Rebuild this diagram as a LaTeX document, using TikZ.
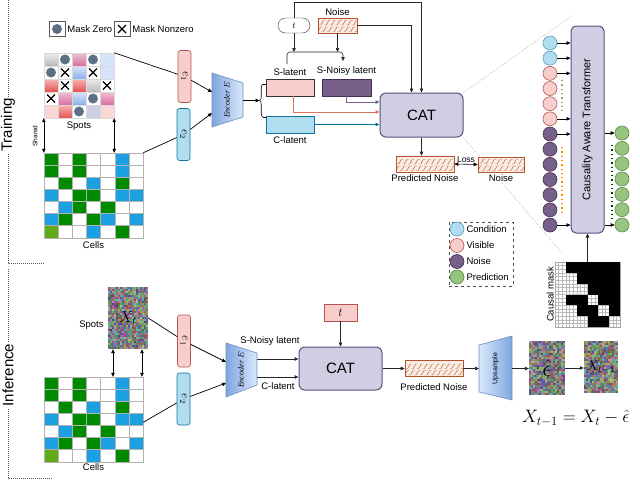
\documentclass[tikz,border=0pt]{standalone}
\usepackage{fix-cm}
\usepackage[no-math]{fontspec}
\setmainfont{Liberation Sans}
\newfontfamily\seriffont{Liberation Serif}
\usepackage{graphicx}
\usetikzlibrary{positioning,arrows.meta,decorations.pathreplacing}

\definecolor{pinkf}{HTML}{F8CECC}
\definecolor{pinkd}{HTML}{B85450}
\definecolor{bluef}{HTML}{B1DDF0}
\definecolor{blued}{HTML}{10739E}
\definecolor{purpf}{HTML}{76608A}
\definecolor{purpd}{HTML}{432D57}
\definecolor{greenf}{HTML}{97C47E}
\definecolor{greend}{HTML}{5A8A46}
\definecolor{catf}{HTML}{D0CEE2}
\definecolor{catd}{HTML}{56517E}
\definecolor{hatchf}{HTML}{FBEDE4}
\definecolor{hatchd}{HTML}{B5532A}
\definecolor{cgreen}{HTML}{008A00}
\definecolor{cblue}{HTML}{1BA1E2}
\definecolor{clime}{HTML}{60A917}
\definecolor{dotc}{HTML}{5D7186}
\definecolor{salm}{HTML}{D9755B}
\definecolor{encdk}{HTML}{7EA6E0}
\definecolor{enclt}{HTML}{DAE8FC}
\definecolor{encbd}{HTML}{6C8EBF}
\definecolor{pmA}{HTML}{F0BED2}
\definecolor{pmB}{HTML}{D76EA0}
\definecolor{rdA}{HTML}{F8B4B4}
\definecolor{rdB}{HTML}{E65050}
\definecolor{blA}{HTML}{D6E4FA}
\definecolor{blB}{HTML}{8CB0EC}

% 7x7 cell matrix, top left corner at (#1,#2)
\newcommand{\cellgrid}[2]{%
  \foreach \row [count=\r from 0] in {{G,W,G,W,W,B,W},{G,W,G,W,W,B,W},{W,G,W,B,W,G,W},{B,W,G,G,W,B,B},{W,B,G,W,G,W,W},{B,G,W,G,B,W,B},{L,W,W,B,W,G,W}}
    \foreach \c [count=\k from 0] in \row
      \path[ce\c] ({#1+14.14*\k},{#2+12.1*\r}) rectangle ++(14.14,12.1);}

% random noise picture, top left (#1,#2), #3 x #4 pixels of 2pt
\newcommand{\noiseimg}[4]{%
  \foreach \i in {1,...,#3}{\foreach \j in {1,...,#4}{%
    \pgfmathsetmacro{\ra}{0.25+0.5*rnd}\pgfmathsetmacro{\rb}{0.25+0.5*rnd}\pgfmathsetmacro{\rc}{0.25+0.5*rnd}%
    \definecolor{nzc}{rgb}{\ra,\rb,\rc}%
    \fill[nzc] ({#1+2*\i-2},{#2+2*\j-2}) rectangle ++(2,2);}}}

\begin{document}
\pgfmathsetseed{7}
\begin{tikzpicture}[x=1pt,y=-1pt,
  >={Triangle[length=4pt,width=3.5pt]},
  lbl/.style={font=\fontsize{9.5}{11}\selectfont, inner sep=1pt},
  phase/.style={font=\fontsize{15}{17}\selectfont, rotate=90, fill=white, inner sep=1.5pt},
  phaseframe/.style={draw=gray!70!black, dash pattern=on 1pt off 1pt, line width=0.6pt},
  zoomline/.style={draw=gray!70, dash pattern=on 0.8pt off 1.2pt, line width=0.5pt},
  conn/.style={->, line width=0.7pt},
  gconn/.style={->, draw=gray!30!black, line width=0.6pt},
  dblarr/.style={<->, line width=0.6pt},
  ebox/.style={rounded corners=2.5pt, minimum width=13pt, minimum height=52pt, inner sep=0, line width=0.6pt, font=\fontsize{12}{14}\selectfont},
  eone/.style={ebox, fill=pinkf, draw=pinkd},
  etwo/.style={ebox, fill=bluef, draw=blued},
  latent/.style={minimum width=48pt, minimum height=17pt, inner sep=0, line width=0.8pt},
  catbox/.style={rounded corners=6pt, fill=catf, draw=catd, line width=1pt, minimum width=83pt, minimum height=44pt, inner sep=0, font=\fontsize{15}{17}\selectfont},
  noisebox/.style={draw=hatchd, fill=hatchf, line width=0.6pt, inner sep=0,
    path picture={\foreach \rr in {0,1}{\foreach \ii in {0,...,11}{\draw[hatchd, line width=0.45pt] ([shift={({\ii*5.5pt-2pt+\rr*2.75pt},{1.5pt+\rr*6.5pt})}]path picture bounding box.south west) -- ++(2pt,0pt) -- ++(2.5pt,4.5pt) -- ++(2pt,0pt);}}}},
  tok/.style={circle, minimum size=14pt, inner sep=0, line width=0.6pt},
  tokcond/.style={tok, fill=bluef, draw=blued!70},
  tokvis/.style={tok, fill=pinkf, draw=pinkd},
  toknoi/.style={tok, fill=purpf, draw=purpd},
  tokpred/.style={tok, fill=greenf, draw=greend},
  ceG/.style={fill=cgreen, draw=gray!60}, ceW/.style={fill=white, draw=gray!60},
  ceB/.style={fill=cblue, draw=gray!60}, ceL/.style={fill=clime, draw=gray!60},
  spgy/.style={top color=gray!15, bottom color=gray!55, draw=gray!30},
  sppm/.style={top color=pmA, bottom color=pmB, draw=gray!30},
  sprd/.style={top color=rdA, bottom color=rdB, draw=gray!30},
  spbl/.style={top color=blA, bottom color=blB, draw=gray!30},
  splb/.style={fill=blA, draw=gray!30},
  splp/.style={fill=pinkf!80, draw=gray!30},
  splv/.style={fill=catf, draw=gray!30},
  spwc/.style={fill=white, draw=gray!30, path picture={\fill[dotc] (path picture bounding box.center) circle (5pt);}},
  spwx/.style={fill=white, draw=gray!30, path picture={\draw[black, line width=1.1pt] ([shift={(-4pt,-4pt)}]path picture bounding box.center) -- ++(8pt,8pt) ([shift={(-4pt,4pt)}]path picture bounding box.center) -- ++(8pt,-8pt);}},
  maskgrid/.style={draw=gray!55, line width=0.25pt},
  encshape/.style={left color=encdk, right color=enclt, draw=encbd, line width=0.6pt},
  upsshape/.style={left color=enclt, right color=encdk, draw=encbd, line width=0.6pt},
  encfont/.style={rotate=90, font=\fontsize{8}{9}\selectfont\seriffont\itshape},
  dotg/.style={draw=greend!70, line width=1.3pt, dash pattern=on 1.3pt off 3pt},
  doto/.style={draw=orange!90!yellow, line width=1.3pt, dash pattern=on 1.3pt off 3pt},
  dotd/.style={draw=green!25!black, line width=1.3pt, dash pattern=on 1.3pt off 3pt}
]
\useasboundingbox (0,0) rectangle (640,480);

% training / inference frames
\draw[phaseframe] (8,0) -- (8,263) -- (44,263);
\node[phase] at (8,125) {Training};
\draw[phaseframe] (8,269) -- (8,478) -- (53,478);
\node[phase] at (8,375) {Inference};

% mask legend
\node[spwc, draw=gray!70!black, minimum width=16pt, minimum height=15pt] (mz) at (57,29) {};
\node[lbl, right=1pt of mz] {Mask Zero};
\node[spwx, draw=gray!70!black, minimum width=16pt, minimum height=15pt] (mn) at (122,29) {};
\node[lbl, right=1pt of mn] {Mask Nonzero};

% spots and cells
\foreach \row [count=\r from 0] in {{gy,wc,pm,wc,lb},{wc,wx,bl,wx,lb},{rd,wx,rd,gy,wx},{wx,pm,bl,wc,pm},{lp,rd,wc,lv,lp}}
  \foreach \c [count=\k from 0] in \row
    \path[sp\c] ({44+14*\k},{53+13*\r}) rectangle ++(14,13);
\node[minimum width=70pt, minimum height=65pt, inner sep=0] (sp) at (79,85.5) {};
\node[lbl, below=2pt of sp] {Spots};
\cellgrid{44}{153}
\node[minimum width=99pt, minimum height=84.7pt, inner sep=0] (ce) at (93.5,195.35) {};
\node[lbl, below=3pt of ce] {Cells};
\draw[dblarr] (sp.south west) -- (ce.north west);
\draw[dblarr] (sp.south east) -- (sp.south east |- ce.north);
\node[rotate=90, font=\fontsize{6.5}{7}\selectfont] at (35,136) {Shared};

% encoder
\node[eone] (e1) at (184.5,76.5) {\rotatebox{-90}{$e_1$}};
\node[etwo] (e2) at (183.5,134.5) {\rotatebox{-90}{$e_2$}};
\path[encshape] (212,73) -- (243,83) -- (243,117) -- (212,127) -- cycle;
\node[encfont] (enc) at (227,100) {Encoder $E$};
\coordinate (encA) at (212,92);
\coordinate (encB) at (212,113);
\coordinate (encO) at (243,100.5);
\draw[line width=0.7pt] (sp.north east) -- (e1);
\draw[conn] (e1) -- (encA);
\draw[line width=0.7pt] (ce.north east) -- (e2);
\draw[conn] (e2) -- (encB);

% latents
\node[latent, fill=pinkf, draw=black!80] (sl) at (290,87.5) {};
\node[latent, fill=purpf, draw=purpd, minimum width=49pt] (snl) at (346.5,87.5) {};
\node[latent, fill=bluef, draw=blued] (cl) at (290,124.5) {};
\node[lbl, above=2pt of sl] {S-latent};
\node[lbl, above=2pt of snl] {S-Noisy latent};
\node[lbl, below=2pt of cl] {C-latent};
\coordinate (brT) at (263,84);
\coordinate (brB) at (263,117);
\coordinate (brM) at (259.5,100.5);
\draw[conn, line width=0.6pt] (encO) -- (brM);
\draw[line width=0.6pt, decorate, decoration={brace, amplitude=3.5pt}] (brB) -- (brT);
\draw[line width=0.6pt] (brT) -- (sl.west |- brT);
\draw[line width=0.6pt] (brB) -- (cl.west |- brB);

% timestep and noise
\node[draw=gray!40!black, fill=white, rounded corners=7.5pt, minimum width=32pt, minimum height=15pt, inner sep=0, font=\fontsize{9}{10}\selectfont] (t) at (294,25.5) {$t$};
\node[noisebox, minimum width=39pt, minimum height=15pt] (nz) at (337.5,25.5) {};
\node[lbl, above=1pt of nz] {Noise};
\node[catbox] (cat) at (421.5,115) {CAT};
\draw[gconn] (t.north) -- ++(0,-16) -| (cat.north);
\draw[gconn] (nz.east) -| ([xshift=-10pt]cat.north);
\coordinate (barL) at (287,52);
\coordinate (barR) at (343,52);
\draw[gconn] (t.south) -- (t.south |- barL);
\draw[gconn] (nz.south) -- (nz.south |- barL);
\draw[gconn, rounded corners=3pt] ([yshift=-12pt]barL) -- (barL) -- (barR) -- ([yshift=-9pt]barR);
\draw[->, purpf, line width=0.7pt] (snl.south) |- ([yshift=13pt]cat.west);
\draw[->, salm, line width=0.7pt] ([xshift=3pt]sl.south) |- ([yshift=3pt]cat.west);
\draw[->, blued, line width=0.7pt] (cl.east) -- (cl.east -| cat.west);

% loss
\node[noisebox, minimum width=58pt, minimum height=16pt] (pn) at (425,164) {};
\node[lbl, below=1pt of pn] {Predicted Noise};
\node[noisebox, minimum width=46pt, minimum height=15pt] (nz2) at (501,164.5) {};
\node[lbl, below=1.5pt of nz2] {Noise};
\draw[gconn] (cat.south) -- (cat.south |- pn.north);
\draw[dblarr] (pn.east) -- node[above, font=\fontsize{8.5}{10}\selectfont, inner sep=1pt] {Loss} (nz2.west);

% causality aware transformer
\node[catbox, minimum width=33pt, minimum height=207pt, rounded corners=5pt, font=\fontsize{11}{13}\selectfont] (catr) at (587.5,129.5) {\rotatebox{90}{Causality Aware Transformer}};
\coordinate (zoomT) at (573,15);
\coordinate (zoomB) at (562,253);
\draw[zoomline] (cat.north east) -- (zoomT);
\draw[zoomline] (cat.south east) -- (zoomB);
\foreach \st [count=\i from 0] in {cond,cond,vis,vis,vis,vis,noi,noi,noi,noi,noi,noi,noi}
  \node[tok\st] (in\i) at (550,{43+15.17*\i}) {};
\foreach \i in {0,1,2,5,6,12}
  \draw[gconn, draw=black] (in\i) -- (in\i -| catr.west);
\foreach \j in {0,...,6}
  \node[tokpred] (out\j) at (622,{133+15.33*\j}) {};
\draw[gconn, draw=black] (catr.east |- out0) -- (out0);
\draw[gconn, draw=black] (catr.east |- out6) -- (out6);
\draw[dotg] (562,80) -- (562,113);
\draw[doto] (562,147) -- (562,214);
\draw[dotd] (612,145) -- (612,221);

% causal mask
\node[draw=gray!70, minimum size=65pt, inner sep=0] (cm) at (587.5,294.5) {};
\foreach \i in {1,...,17} {
  \draw[maskgrid] ({555+\i*65/18},262) -- ++(0,65);
  \draw[maskgrid] (555,{262+\i*65/18}) -- ++(65,0);}
\foreach \r/\blk in {0/{1,2,3,4,5},1/{2,3,4,5},2/{3,4,5},3/{1,2,4,5},4/{2,3,5},5/{3,4}}
  \foreach \k in \blk
    \fill ({555+\k*65/6},{262+\r*65/6}) rectangle ++({65/6},{65/6});
\draw[gconn] (cm) -- (catr);
\node[lbl, rotate=90, anchor=south] at (cm.west) {Causal mask};

% token legend
\node[draw=gray!60!black, dashed, minimum width=64pt, minimum height=64pt, inner sep=0] (leg) at (481,254) {};
\foreach \y/\st/\txt in {229/cond/Condition,245.5/vis/Visible,261.5/noi/Noise,277/pred/Prediction} {
  \node[tok\st] (lg\st) at (457,\y) {};
  \node[lbl, right=1pt of lg\st] {\txt};}

% inference
\noiseimg{108}{287}{20}{31}
\node[minimum width=40pt, minimum height=62pt, inner sep=0, font=\fontsize{16}{18}\selectfont] (xt) at (128,318) {$X_t$};
\node[lbl, anchor=east] at ([xshift=-3pt,yshift=-7pt]xt.west) {Spots};
\cellgrid{44}{377}
\node[minimum width=99pt, minimum height=84.7pt, inner sep=0] (ce2) at (93.5,419.35) {};
\node[lbl, below=1pt of ce2] {Cells};
\draw[dblarr] ([xshift=-15pt]xt.south) -- ([xshift=-15pt]xt.south |- ce2.north);
\draw[dblarr] ([xshift=14pt]xt.south) -- ([xshift=14pt]xt.south |- ce2.north);
\node[eone] (e1b) at (184,341) {\rotatebox{-90}{$e_1$}};
\node[etwo] (e2b) at (183.5,399) {\rotatebox{-90}{$e_2$}};
\path[encshape] (226,343) -- (257,353) -- (257,385) -- (226,397) -- cycle;
\node[encfont] (enc2) at (241,370) {Encoder $E$};
\coordinate (encC) at (226,362);
\coordinate (encD) at (226,383);
\coordinate (encE) at (257,359);
\coordinate (encF) at (257,377);
\draw[line width=0.7pt] (xt.east) -- (e1b);
\draw[conn] (e1b) -- (encC);
\draw[line width=0.7pt] ([yshift=-3pt]ce2.east) -- (e2b);
\draw[conn] (e2b) -- (encD);
\node[catbox, minimum height=43pt] (cat2) at (340.5,368.5) {CAT};
\node[draw=pinkd, fill=pinkf, minimum width=33pt, minimum height=17pt, inner sep=0, font=\fontsize{12}{14}\selectfont] (t2) at (340.5,312.5) {$t$};
\draw[gconn] (t2) -- (cat2);
\draw[gconn] (encE) -- (encE -| cat2.west);
\draw[gconn] (encF) -- (encF -| cat2.west);
\node[lbl] at (270,341) {S-Noisy latent};
\node[lbl] at (278,386) {C-latent};
\node[noisebox, minimum width=58pt, minimum height=16pt] (pn2) at (434,368.5) {};
\node[lbl, below=6pt of pn2] {Predicted Noise};
\draw[gconn] (cat2.east) -- (pn2.west);
\path[upsshape] (479,345) -- (512,336) -- (512,400) -- (479,392) -- cycle;
\node[rotate=90, font=\fontsize{7}{8}\selectfont] (ups) at (495.5,368.5) {Upsample};
\coordinate (upsL) at (479,368.5);
\coordinate (upsR) at (512,368.5);
\draw[gconn] (pn2.east) -- (upsL);
\noiseimg{529}{341}{18}{27}
\node[minimum width=36pt, minimum height=54pt, inner sep=0, font=\fontsize{24}{26}\selectfont] (eps) at (547,368) {$\hat{\epsilon}$};
\draw[gconn] (upsR) -- (upsR -| eps.west);
\noiseimg{584}{341}{17}{26}
\node[minimum width=34pt, minimum height=52pt, inner sep=0, font=\fontsize{14}{16}\selectfont] (xt1) at (601,367) {$X_{t-1}$};
\draw[gconn] (eps.east) -- (eps.east -| xt1.west);
\node[anchor=west, inner sep=0, font=\fontsize{18}{22}\selectfont] (eq) at (522,418) {$X_{t-1} = X_t - \hat{\epsilon}$};
\end{tikzpicture}
\end{document}
